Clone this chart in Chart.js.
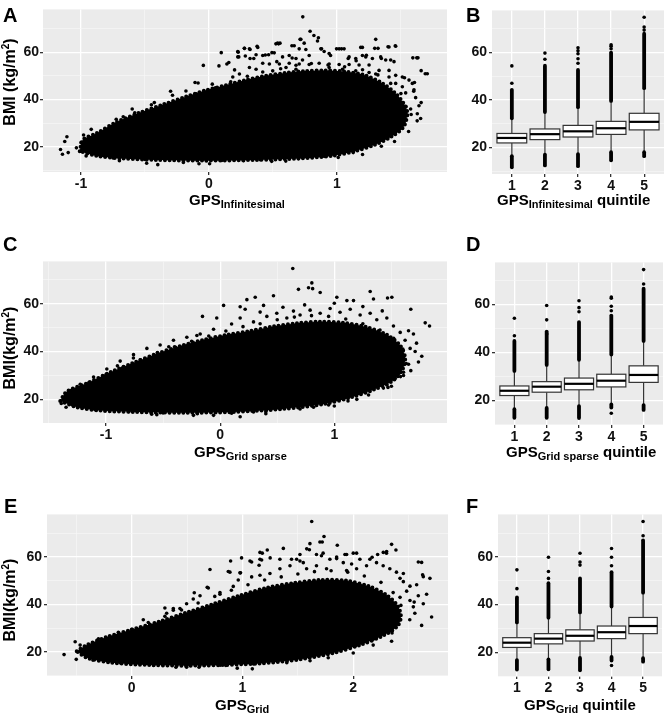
<!DOCTYPE html>
<html><head><meta charset="utf-8">
<script src="https://cdn.jsdelivr.net/npm/chart.js@4.4.0/dist/chart.umd.min.js"></script>
<style>
html,body{margin:0;padding:0;background:#fff;}
#wrap{position:relative;width:671px;height:717px;overflow:hidden;font-family:"Liberation Sans",Arial,sans-serif;font-weight:bold;color:#000;}
canvas{position:absolute;}
.lbl{position:absolute;white-space:nowrap;}
.sub,.sup{position:relative;line-height:0;}
</style></head><body><div id="wrap"></div>
<script>
// ---------------- DATA ----------------
// Scatter panel A (GPS Infinitesimal vs BMI): outline of the dense point cloud, fringe points, speckle points, isolated points
const envelopeA = [[-1.01,18.2],[-0.985,23.0],[-0.88,25.7],[-0.725,30.4],[-0.544,34.4],[-0.363,37.8],[-0.18,41.2],[-0.026,43.9],[0.13,46.0],[0.285,48.2],[0.44,50.0],[0.596,51.2],[0.75,52.0],[0.907,52.3],[1.06,51.8],[1.218,50.3],[1.35,47.0],[1.45,43.0],[1.52,38.5],[1.55,34.4],[1.52,28.4],[1.425,24.3],[1.295,20.9],[1.14,18.2],[0.958,16.2],[0.70,15.1],[0.363,14.5],[-0.026,14.2],[-0.415,14.5],[-0.674,15.1],[-0.88,16.2]];
const fringeA = [[-1.0,21.8],[-0.85,25.5],[-0.75,28.6],[-0.62,31.2],[-0.5,33.5],[-0.36,36.6],[-0.22,39.6],[-0.1,42.4],[0.05,45.0],[0.17,47.5],[0.3,49.8],[0.42,51.6],[0.56,53.0],[0.68,54.5],[0.8,55.2],[0.93,54.6],[1.06,53.8],[1.2,52.6],[1.32,50.4],[1.42,46.8],[1.5,42.5],[1.54,37.0],[1.52,30.5],[1.45,25.8],[1.35,22.8],[1.2,20.0],[1.05,17.6],[0.9,16.0],[0.7,15.0],[0.4,14.6],[0.1,14.3],[-0.2,14.3],[-0.5,14.7],[-0.75,15.3],[-0.95,17.8]];
const speckleA = [[0.848,64.7],[0.536,63.8],[0.555,63.8],[0.718,65.4],[0.744,63.8],[0.666,62.7],[0.705,61.4],[0.757,61.1],[0.225,60.3],[0.277,61.6],[0.321,61.1],[0.381,62.0],[0.225,58.0],[0.284,58.4],[0.321,57.3],[0.368,58.9],[0.42,58.6],[0.466,58.9],[0.51,59.7],[0.575,58.0],[0.627,58.6],[0.68,57.3],[0.731,56.7],[0.783,58.6],[0.874,61.4],[0.9,60.3],[0.939,59.4],[1.017,61.4],[1.056,61.4],[1.199,62.0],[1.295,61.6],[1.321,61.6],[1.407,62.2],[1.459,62.5],[1.633,57.6],[1.706,50.9],[1.095,58.0],[1.147,57.3],[1.199,58.6],[1.225,58.0],[1.277,57.3],[1.342,58.0],[1.381,56.7],[1.446,56.0],[1.329,52.3],[1.407,52.3],[1.459,50.2],[1.511,49.5],[1.563,48.2],[1.589,46.8],[1.602,44.1],[1.615,40.8],[1.641,37.4],[1.654,32.0],[1.537,42.8],[1.511,38.7],[1.576,36.0],[1.485,34.0],[1.55,33.3],[1.628,34.0],[0.42,55.3],[0.472,55.0],[0.55,55.0],[0.627,55.3],[0.705,55.0],[0.783,54.8],[0.861,55.3],[0.939,55.0],[1.017,54.8],[1.095,54.8],[1.173,54.6],[1.251,54.6],[0.316,53.5],[0.238,50.8],[0.186,49.5],[0.368,52.8],[0.498,52.1],[0.602,53.5],[0.68,52.8],[0.939,53.5],[1.043,52.8],[1.147,52.1],[1.251,51.4],[1.303,50.8],[1.407,49.5],[1.459,46.8],[1.511,45.4]];
const pointsA = [[0.733,74.9],[0.79,68.8],[0.82,67.0],[0.855,66.1],[0.712,65.4],[1.303,65.4],[1.456,62.7],[1.399,62.3],[0.523,63.5],[0.544,63.5],[0.376,62.5],[0.277,61.6],[0.316,61.4],[0.096,59.8],[0.228,60.0],[0.233,58.0],[0.648,62.7],[0.88,61.4],[0.997,61.4],[1.036,61.4],[1.186,62.0],[1.593,57.6],[1.624,57.6],[1.658,52.2],[1.69,50.9],[-0.044,54.4],[0.078,54.2],[-0.109,47.2],[-0.085,47.0],[0.026,46.5],[0.14,55.0],[0.155,55.6],[-0.18,43.6],[-0.285,41.8],[-0.427,38.7],[-0.45,37.8],[-0.58,34.4],[-0.725,31.7],[-0.67,32.7],[-0.80,27.0],[-0.92,27.4],[-0.98,25.0],[-1.11,24.3],[-1.127,22.3],[-1.16,18.9],[-1.145,16.9],[-1.1,17.6],[-1.036,19.6],[-0.96,16.2],[-0.40,12.5],[-0.487,13.1],[-0.078,12.9],[0.005,12.9],[0.27,14.2],[0.49,13.9],[0.80,16.9],[1.01,15.5],[1.127,17.6],[1.347,20.3],[1.45,22.3],[1.627,31.0],[1.658,38.7],[1.58,33.7],[1.528,29.7],[1.606,47.2],[1.528,49.2],[1.42,56.7],[1.347,57.3],[1.23,58.7],[1.088,57.3],[0.492,59.8],[0.44,58.8],[0.35,57.3],[0.53,56.0],[0.65,57.5],[0.95,58.6],[1.15,56.4],[0.2,52.5],[-0.3,43.5],[-0.6,36.0],[1.6,43.5],[1.56,26.5],[1.2,16.8],[0.6,14.0],[-0.2,13.4],[-0.7,14.2]];

// Scatter panel C (GPS Grid sparse vs BMI)
const envelopeC = [[-1.401,19.3],[-1.343,23.3],[-1.168,26.7],[-0.963,31.3],[-0.759,35.3],[-0.555,39.1],[-0.35,42.3],[-0.146,44.9],[0.058,47.0],[0.263,48.6],[0.467,50.5],[0.672,51.8],[0.876,52.5],[1.08,52.0],[1.285,50.2],[1.46,47.0],[1.577,42.5],[1.62,37.5],[1.60,32.7],[1.518,28.0],[1.343,24.0],[1.139,20.7],[0.905,18.0],[0.555,16.0],[0.117,14.7],[-0.321,14.4],[-0.759,14.7],[-1.051,15.3],[-1.255,16.7]];
const fringeC = [[-1.33,21.8],[-1.15,27.0],[-1.0,30.4],[-0.85,33.5],[-0.7,36.5],[-0.55,39.6],[-0.4,42.0],[-0.25,44.3],[-0.1,46.5],[0.05,48.6],[0.2,50.4],[0.35,51.6],[0.5,53.3],[0.65,54.4],[0.8,55.0],[0.95,54.7],[1.1,53.6],[1.25,51.6],[1.4,49.0],[1.52,45.5],[1.6,41.0],[1.63,35.0],[1.58,29.5],[1.47,25.0],[1.3,21.8],[1.12,19.3],[0.95,17.6],[0.7,16.0],[0.4,14.8],[0.1,14.2],[-0.2,14.0],[-0.5,14.3],[-0.8,14.8],[-1.1,15.8],[-1.3,17.8]];
const speckleC = [[0.175,54.0],[0.292,52.4],[0.409,54.7],[0.496,56.0],[0.584,54.0],[0.642,56.9],[0.70,55.3],[0.788,57.3],[0.876,56.0],[0.963,58.0],[1.05,56.4],[1.139,57.7],[1.226,55.3],[1.314,56.0],[1.372,53.3],[1.46,54.0],[1.518,50.7],[1.577,48.0],[1.62,44.7],[1.664,41.3],[1.65,34.7],[1.606,31.3],[1.533,28.7],[1.46,26.0],[-0.058,49.3],[-0.175,47.3],[-0.292,46.0],[-0.409,44.7],[-0.526,42.7],[-0.642,41.3],[-0.759,38.7],[-0.876,36.0],[-0.993,32.7],[-1.109,29.3],[-1.226,26.3],[0.55,58.5],[0.74,59.5],[1.0,60.2],[1.25,58.8],[1.42,57.0],[0.35,56.5]];
const pointsC = [[0.636,74.7],[0.803,68.7],[0.774,66.7],[0.81,66.3],[0.686,66.0],[1.314,65.1],[1.343,62.0],[1.466,62.4],[1.504,62.7],[1.67,57.7],[1.796,52.0],[1.834,50.7],[1.766,38.0],[1.708,40.0],[1.737,35.6],[1.67,32.0],[1.562,30.7],[1.693,47.3],[1.65,48.7],[0.307,62.7],[0.234,61.7],[0.467,63.3],[0.03,59.3],[-0.155,54.7],[-0.03,54.0],[0.175,58.7],[0.219,57.7],[0.38,59.3],[0.876,64.7],[1.11,61.3],[1.168,61.3],[1.022,62.7],[-0.204,46.7],[-0.569,38.0],[-0.55,38.7],[-0.38,40.0],[-0.76,37.3],[-0.861,32.9],[-0.963,28.0],[-1.124,26.0],[-1.226,24.0],[-1.308,23.7],[-1.392,18.3],[-1.35,16.7],[-0.555,13.6],[-0.234,13.3],[0.175,12.7],[-0.058,13.3],[0.292,14.7],[0.818,16.7],[1.197,20.0],[1.43,24.7],[1.606,30.0],[0.1,51.5],[-0.45,42.0],[-0.9,34.0],[1.72,43.5],[1.5,25.5],[1.0,17.2],[0.4,14.0],[-0.6,13.8]];

// Scatter panel E (GPS Grid vs BMI)
const envelopeE = [[-0.496,20.3],[-0.406,22.9],[-0.226,26.3],[0.015,29.6],[0.256,32.9],[0.496,36.6],[0.737,40.2],[0.977,43.8],[1.218,47.0],[1.459,49.0],[1.699,50.3],[1.94,50.0],[2.15,47.5],[2.30,44.0],[2.40,39.5],[2.43,35.0],[2.40,30.9],[2.27,26.9],[2.06,22.9],[1.82,19.6],[1.52,16.9],[1.158,15.2],[0.617,14.3],[0.165,14.5],[-0.195,15.6],[-0.406,17.6]];
const fringeE = [[-0.4,21.0],[-0.3,24.0],[-0.15,26.6],[0.0,29.6],[0.15,32.4],[0.3,35.0],[0.45,37.7],[0.6,40.6],[0.75,43.4],[0.9,46.0],[1.05,48.3],[1.2,50.3],[1.35,51.6],[1.5,52.8],[1.65,53.8],[1.8,54.2],[1.95,53.6],[2.1,52.0],[2.25,49.3],[2.36,45.0],[2.43,39.6],[2.42,33.6],[2.33,28.8],[2.18,25.4],[2.02,22.6],[1.85,20.3],[1.65,18.3],[1.4,16.6],[1.1,15.0],[0.8,14.4],[0.5,14.3],[0.2,14.5],[-0.1,15.4],[-0.35,16.6]];
const speckleE = [[0.992,59.6],[1.068,58.3],[1.083,57.9],[1.158,59.0],[1.173,58.7],[0.707,54.7],[0.872,53.9],[0.887,53.6],[0.977,53.3],[1.25,59.6],[1.338,59.0],[1.443,59.0],[1.668,61.0],[1.728,61.6],[1.713,60.5],[1.925,61.0],[1.94,61.0],[2.03,61.6],[2.271,61.9],[2.301,62.3],[2.632,51.7],[2.512,47.7],[2.572,48.3],[2.452,53.0],[2.422,51.0],[2.662,44.3],[2.587,43.7],[2.632,40.3],[2.542,39.0],[0.682,47.2],[0.797,44.3],[0.917,47.6],[0.962,50.3],[1.083,51.6],[1.158,52.3],[1.248,53.0],[1.338,55.0],[1.429,56.3],[1.489,59.0],[1.519,61.0],[1.549,57.6],[1.789,59.0],[1.85,59.3],[1.91,57.6],[1.985,57.0],[2.06,59.0],[2.15,59.0],[2.21,57.6],[2.27,56.3],[2.33,55.0],[2.39,53.6],[2.12,56.3],[2.03,55.0],[1.94,54.3],[1.759,55.0],[1.668,56.3],[1.579,55.0],[2.452,49.6],[2.482,45.6],[2.422,43.0],[2.512,41.7],[0.496,40.3],[0.436,38.3],[0.376,37.6],[0.556,42.3],[0.617,43.7],[0.797,45.0]];
const pointsE = [[1.625,74.9],[1.736,68.6],[1.699,66.3],[1.72,66.3],[1.609,65.6],[1.856,64.9],[1.58,63.4],[1.604,63.0],[1.224,62.9],[1.369,63.6],[1.158,61.9],[1.179,61.6],[2.346,65.3],[2.385,62.9],[2.30,61.6],[2.17,59.9],[2.22,61.0],[2.587,57.9],[2.617,57.7],[2.692,51.0],[2.626,52.5],[2.707,34.7],[2.617,31.2],[2.556,36.3],[2.51,33.6],[2.346,24.5],[1.85,60.0],[1.519,58.3],[2.0,61.6],[1.15,56.5],[0.893,58.3],[0.983,53.3],[0.692,46.9],[0.565,44.9],[0.376,38.3],[0.316,36.3],[0.105,33.6],[-0.12,28.3],[-0.30,25.6],[-0.51,24.3],[-0.465,22.9],[-0.61,18.9],[-0.50,16.9],[0.496,13.6],[0.608,13.6],[0.953,13.2],[1.089,12.9],[0.85,14.3],[1.61,16.3],[1.774,17.6],[2.0,19.6],[2.18,22.9],[0.3,38.5],[2.55,41.0],[2.35,28.0],[1.4,15.5],[0.4,13.6]];

// Box plots: quintiles 1..5
const quintiles = [1,2,3,4,5];
// Panel B
const q1B = [21.9,23.3,24.4,25.5,27.4];
const medB = [24.0,25.6,26.8,28.1,30.8];
const q3B = [25.9,27.8,29.3,31.0,34.4];
const whiskLoB = [16.3,17.0,17.2,18.0,18.0];
const whiskHiB = [31.9,34.5,36.6,39.2,44.6];
const denseHiB = [[32.3,44.3],[34.9,54.5],[37.0,52.7],[39.6,60.0],[45.0,68.0]];
const denseLoB = [[11.6,16.3],[12.4,17.0],[12.1,17.2],[14.6,18.0],[16.3,18.0]];
const outHiB = [[47.1,54.4],[57.2,59.8],[55.5,57.4,59.5,60.8,62.0],[61.6,62.7,63.3],[69.5,70.8,74.9]];
const outLoB = [[],[],[],[],[]];
// Panel D
const q1D = [22.0,23.4,24.4,25.6,27.5];
const medD = [24.0,25.7,26.9,28.2,30.6];
const q3D = [26.0,27.8,29.3,30.9,34.4];
const whiskLoD = [16.3,16.8,17.6,18.3,18.0];
const whiskHiD = [32.0,34.4,36.6,38.8,44.5];
const denseHiD = [[32.3,44.8],[34.8,48.7],[36.9,52.7],[39.1,55.4],[44.8,66.6]];
const denseLoD = [[12.7,16.3],[12.7,16.8],[12.6,17.6],[17.0,18.3],[16.0,18.0]];
const outHiD = [[47.0,54.3],[47.7,53.6,59.6],[57.0,58.7,61.6],[57.4,59.3,62.6,63.1],[68.6,74.6]];
const outLoD = [[],[],[],[14.6],[]];
// Panel F
const q1F = [22.0,23.5,24.7,25.7,27.8];
const medF = [24.0,25.7,26.9,28.4,31.0];
const q3F = [26.1,27.8,29.4,31.0,34.6];
const whiskLoF = [16.7,17.0,17.6,18.0,17.5];
const whiskHiF = [32.2,34.2,36.4,38.9,44.7];
const denseHiF = [[32.5,43.0],[34.5,49.0],[36.7,51.0],[39.2,53.6],[45.0,67.0]];
const denseLoF = [[12.7,16.7],[12.8,17.0],[12.4,17.6],[16.5,18.0],[16.0,17.5]];
const outHiF = [[46.7,54.6],[51.0,53.9,59.9],[56.6,57.9,61.6],[56.3,59.9,63.6],[68.9,74.9]];
const outLoF = [[],[],[],[14.4],[]];

// Tick labels
const yMajor = [20,40,60];
const yMinor = [10,30,50,70];
const xMajorA = [-1,0,1], xMinorA = [-0.5,0.5,1.5];
const xMajorC = [-1,0,1], xMinorC = [-1.5,-0.5,0.5,1.5];
const xMajorE = [0,1,2], xMinorE = [-0.5,0.5,1.5,2.5];

// ---------------- RENDERING ----------------
const wrap = document.getElementById('wrap');
const FONT = '"Liberation Sans", Arial, sans-serif';

const bgPlugin = { id:'bg', beforeDraw(chart){ const a=chart.chartArea, c=chart.ctx; c.save(); c.fillStyle='#ebebeb'; c.fillRect(a.left,a.top,a.right-a.left,a.bottom-a.top); c.restore(); } };

function near(list, v){ return list.some(m => Math.abs(m-v) < 1e-9); }

function axis(range, majors, minors, fitProp, fitVal, pad){
  const all = majors.concat(minors).filter(v => v>=range[0] && v<=range[1]).sort((a,b)=>a-b);
  const isMaj = c => c.tick ? near(majors, c.tick.value) : true;
  return {
    type:'linear', min:range[0], max:range[1],
    afterBuildTicks: s => { s.ticks = all.map(v => ({value:v})); },
    afterFit: s => { s[fitProp] = fitVal; },
    border:{display:false},
    grid:{
      color: c => isMaj(c) ? '#ffffff' : '#f6f6f6',
      lineWidth: c => isMaj(c) ? 1.3 : 0.7,
      tickColor: c => isMaj(c) ? '#333333' : 'rgba(0,0,0,0)',
      tickLength:3, drawTicks:true
    },
    ticks:{ autoSkip:false, maxRotation:0, minRotation:0, padding:pad, color:'#111', font:{family:FONT, size:14, weight:'bold'},
      callback: v => near(majors, v) ? String(v) : '' }
  };
}

function makeCanvas(cv){
  const c = document.createElement('canvas');
  c.width = cv.w; c.height = cv.h;
  c.style.left = cv.left+'px'; c.style.top = cv.top+'px';
  c.style.width = cv.w+'px'; c.style.height = cv.h+'px';
  wrap.appendChild(c);
  return c;
}

function baseOptions(cv, area, xAxis, yAxis){
  return {
    responsive:false, animation:false, events:[],
    layout:{ autoPadding:false, padding:{ left:0, top: area.top-cv.top, right: cv.left+cv.w-area.right, bottom:0 } },
    plugins:{ legend:{display:false}, tooltip:{enabled:false} },
    scales:{ x:xAxis, y:yAxis }
  };
}

const toXY = arr => arr.map(p => ({x:p[0], y:p[1]}));
const closed = arr => toXY(arr.concat([arr[0]]));
const dots = arr => ({ data:toXY(arr), pointRadius:1.8, backgroundColor:'#000', borderWidth:0 });

function scatterPanel(cv, area, xr, yr, xMaj, xMin, envelope, fringe, speckle, pts, ypad){
  const c = makeCanvas(cv);
  const xAxis = axis(xr, xMaj, xMin, 'height', cv.top+cv.h-area.bottom, 1);
  const yAxis = axis(yr, yMajor, yMinor, 'width', area.left-cv.left, ypad);
  new Chart(c, {
    type:'scatter',
    data:{ datasets:[
      // dense cloud: filled outline with a dotted (scalloped) edge
      { data:closed(envelope), showLine:true, fill:'shape', backgroundColor:'#000', borderColor:'#000', borderWidth:4, borderDash:[0,4.6], borderCapStyle:'round', pointRadius:0, tension:0.3 },
      dots(fringe), dots(speckle), dots(pts)
    ]},
    options: baseOptions(cv, area, xAxis, yAxis),
    plugins:[bgPlugin]
  });
}

function boxPanel(cv, area, yr, q1, med, q3, wLo, wHi, dHi, dLo, oHi, oLo){
  const c = makeCanvas(cv);
  const xAxis = axis([0.4,5.6], quintiles, [], 'height', cv.top+cv.h-area.bottom, 1);
  const yAxis = axis(yr, yMajor, yMinor, 'width', area.left-cv.left, 2);
  const outliers = [];
  quintiles.forEach((q,i) => { oHi[i].forEach(v => outliers.push({x:q,y:v})); oLo[i].forEach(v => outliers.push({x:q,y:v})); });
  const boxDraw = { id:'boxdraw', beforeDatasetsDraw(chart){
    const ctx = chart.ctx, X = chart.scales.x, Y = chart.scales.y;
    const half = X.getPixelForValue(1.45) - X.getPixelForValue(1);
    const seg = (x1,y1,x2,y2) => { ctx.beginPath(); ctx.moveTo(x1,y1); ctx.lineTo(x2,y2); ctx.stroke(); };
    ctx.save();
    quintiles.forEach((q,i) => {
      const cx = X.getPixelForValue(q);
      ctx.lineCap='butt'; ctx.strokeStyle='#333'; ctx.lineWidth=1.2;
      seg(cx, Y.getPixelForValue(q3[i]), cx, Y.getPixelForValue(wHi[i]));
      seg(cx, Y.getPixelForValue(q1[i]), cx, Y.getPixelForValue(wLo[i]));
      ctx.strokeStyle='#000'; ctx.lineWidth=3.8; ctx.lineCap='round';
      seg(cx, Y.getPixelForValue(dHi[i][0]), cx, Y.getPixelForValue(dHi[i][1]));
      seg(cx, Y.getPixelForValue(dLo[i][0]), cx, Y.getPixelForValue(dLo[i][1]));
      const top = Y.getPixelForValue(q3[i]), bot = Y.getPixelForValue(q1[i]);
      ctx.fillStyle='#fff'; ctx.fillRect(cx-half, top, 2*half, bot-top);
      ctx.lineCap='butt'; ctx.strokeStyle='#333'; ctx.lineWidth=1.2;
      ctx.strokeRect(cx-half, top, 2*half, bot-top);
      ctx.strokeStyle='#000'; ctx.lineWidth=2.2;
      const my = Y.getPixelForValue(med[i]);
      seg(cx-half, my, cx+half, my);
    });
    ctx.restore();
  }};
  new Chart(c, {
    type:'scatter',
    data:{ datasets:[ { data:outliers, pointRadius:1.8, backgroundColor:'#000', borderWidth:0 } ] },
    options: baseOptions(cv, area, xAxis, yAxis),
    plugins:[bgPlugin, boxDraw]
  });
}

// Panels
scatterPanel({left:0,top:0,w:452,h:195}, {left:43,top:2,right:447,bottom:172}, [-1.297,1.86], [9.4,78.05], xMajorA, xMinorA, envelopeA, fringeA, speckleA, pointsA, 1);
boxPanel({left:452,top:0,w:217,h:197}, {left:492,top:2,right:664,bottom:174}, [8.8,77.8], q1B, medB, q3B, whiskLoB, whiskHiB, denseHiB, denseLoB, outHiB, outLoB);
scatterPanel({left:0,top:252,w:452,h:194}, {left:43,top:254,right:447,bottom:423}, [-1.552,1.987], [10.1,77.7], xMajorC, xMinorC, envelopeC, fringeC, speckleC, pointsC, 1);
boxPanel({left:455,top:252,w:213,h:196}, {left:495,top:254,right:663,bottom:425}, [9.7,77.6], q1D, medD, q3D, whiskLoD, whiskHiD, denseHiD, denseLoD, outHiD, outLoD);
scatterPanel({left:0,top:504,w:453,h:195}, {left:47,top:506,right:448,bottom:676}, [-0.764,2.855], [9.9,77.9], xMajorE, xMinorE, envelopeE, fringeE, speckleE, pointsE, 2);
boxPanel({left:458,top:504,w:209,h:195}, {left:498,top:506,right:662,bottom:676}, [10.0,77.9], q1F, medF, q3F, whiskLoF, whiskHiF, denseHiF, denseLoF, outHiF, outLoF);

// Text labels (HTML)
function text(html, x, baseline, fs){
  const d = document.createElement('div');
  d.className='lbl'; d.innerHTML = html;
  d.style.fontSize = fs+'px'; d.style.lineHeight = fs+'px';
  d.style.left = x+'px'; d.style.top = (baseline - 0.8465*fs)+'px';
  wrap.appendChild(d);
}
function vtext(html, cx, cy, fs){
  const d = document.createElement('div');
  d.className='lbl'; d.innerHTML = html;
  d.style.fontSize = fs+'px'; d.style.lineHeight = fs+'px';
  d.style.left = cx+'px'; d.style.top = cy+'px';
  d.style.transform = 'translate(-50%,-50%) rotate(-90deg)';
  wrap.appendChild(d);
}
const sub = s => '<span class="sub" style="font-size:11px;top:3px">'+s+'</span>';
const sup2 = '<span class="sup" style="font-size:10px;top:-6px">2</span>';

text('A', 3, 22, 20); text('B', 466, 22, 20);
text('C', 3, 251, 20); text('D', 466, 251, 20);
text('E', 4, 513, 20); text('F', 466, 513, 20);

text('GPS'+sub('Infinitesimal'), 189, 205, 15);
text('GPS'+sub('Infinitesimal')+' quintile', 497, 205, 15);
text('GPS'+sub('Grid sparse'), 194, 457, 15);
text('GPS'+sub('Grid sparse')+' quintile', 506, 457, 15);
text('GPS'+sub('Grid'), 215, 710, 15);
text('GPS'+sub('Grid')+' quintile', 524, 710, 15);

vtext('BMI (kg/m'+sup2+')', 10, 82, 16);
vtext('BMI(kg/m'+sup2+')', 10, 348, 16);
vtext('BMI(kg/m'+sup2+')', 10, 600, 16);
</script></body></html>
